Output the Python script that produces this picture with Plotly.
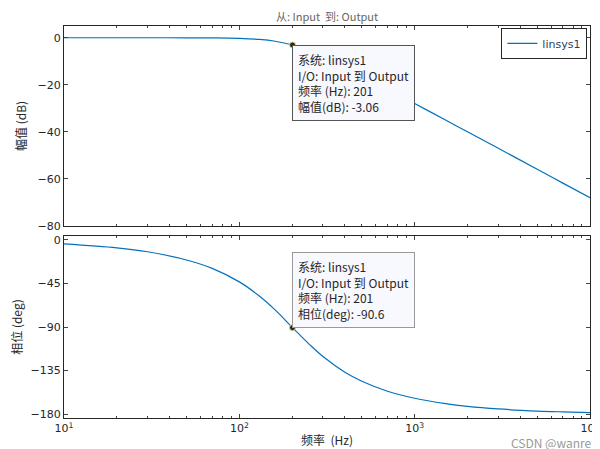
import plotly.graph_objects as go

freq = [10, 20, 30, 50, 70, 100, 130, 160, 201, 250, 300, 400, 500, 700, 1000, 1500, 2000, 3000, 5000, 7000, 10000]
mag_db = [0, 0, -0.002, -0.017, -0.065, -0.26, -0.71, -1.49, -3.06, -5.37, -7.83, -12.3, -16.0, -21.8, -27.96, -35.0, -40.0, -47.0, -55.9, -61.8, -67.96]
phase = [-4.05, -8.13, -12.2, -20.7, -29.4, -43.3, -57.9, -72.3, -90.6, -107.6, -120.5, -136.7, -146.0, -156.3, -163.6, -169.1, -171.9, -174.6, -176.8, -177.7, -178.4]
tip_f = 201
tip_mag = -3.06
tip_ph = -90.6

fig = go.Figure()
blue = "#0072BD"
fig.add_trace(go.Scatter(x=freq, y=mag_db, mode="lines", line=dict(color=blue, width=1.2, shape="spline"), name="linsys1", xaxis="x", yaxis="y"))
fig.add_trace(go.Scatter(x=freq, y=phase, mode="lines", line=dict(color=blue, width=1.2, shape="spline"), showlegend=False, xaxis="x2", yaxis="y2"))
for ax, yv in (("", tip_mag), ("2", tip_ph)):
    fig.add_trace(go.Scatter(x=[tip_f], y=[yv], mode="markers", marker=dict(color="#262626", size=6, line=dict(color="#DDDD88", width=1)), showlegend=False, xaxis="x" + ax, yaxis="y" + ax))

tf = dict(family="DejaVu Sans", size=11, color="#262626")
axcommon = dict(showgrid=False, linecolor="#262626", mirror="ticks", showline=True, ticks="inside", ticklen=4,
                tickfont=tf, zeroline=False, automargin=False)
xminor = dict(ticks="inside", ticklen=2, dtick="D1", showgrid=False)
fig.update_layout(
    width=600, height=449, paper_bgcolor="white", plot_bgcolor="white",
    margin=dict(l=56, r=18, t=18, b=39),
    xaxis=dict(type="log", range=[1, 4], domain=[0, 1], anchor="y", showticklabels=False, minor=xminor, dtick=1, **axcommon),
    yaxis=dict(range=[-80, 5], domain=[0.49, 1], tickvals=[0, -20, -40, -60, -80], title=dict(text="幅值 (dB)", font=dict(family="Noto Sans CJK SC", size=12, color="#262626"), standoff=8), **axcommon),
    xaxis2=dict(type="log", range=[1, 4], domain=[0, 1], anchor="y2", tickvals=[10, 100, 1000, 10000], ticktext=["10<sup>1</sup>", "10<sup>2</sup>", "10<sup>3</sup>", "10<sup>4</sup>"], minor=xminor,
                title=dict(text="频率  (Hz)", font=dict(family="Noto Sans CJK SC", size=12, color="#262626"), standoff=2), **axcommon),
    yaxis2=dict(range=[-184, 4], domain=[0, 0.464], tickvals=[0, -45, -90, -135, -180], title=dict(text="相位 (deg)", font=dict(family="Noto Sans CJK SC", size=12, color="#262626"), standoff=8), **axcommon),
    legend=dict(x=0.995, y=0.995, xanchor="right", yanchor="top", bordercolor="#262626", borderwidth=1, bgcolor="white", font=dict(family="DejaVu Sans", size=11)),
    showlegend=True,
)
fig.add_annotation(text="从: Input  到: Output", xref="paper", yref="paper", x=0.5, y=1.0, yanchor="bottom", showarrow=False, yshift=0, font=dict(family="Noto Sans CJK SC", size=11, color="#666666"))
tipfont = dict(family="Noto Sans CJK SC", size=12, color="#262626")
fig.add_annotation(text="系统: linsys1<br>I/O: Input 到 Output<br>频率 (Hz): 201<br>幅值(dB): -3.06", xref="x", yref="y", x=2.303, y=tip_mag, xanchor="left", yanchor="top", align="left", showarrow=False, bgcolor="#F8F8FF", bordercolor="#555555", borderwidth=1, borderpad=5, font=tipfont)
fig.add_annotation(text="系统: linsys1<br>I/O: Input 到 Output<br>频率 (Hz): 201<br>相位(deg): -90.6", xref="x2", yref="y2", x=2.303, y=tip_ph, xanchor="left", yanchor="bottom", align="left", showarrow=False, bgcolor="#F8F8FF", bordercolor="#999999", borderwidth=1, borderpad=5, font=tipfont)
fig.add_annotation(text="CSDN @wanrenqi", xref="paper", yref="paper", x=1.04, y=0, xanchor="right", yanchor="top", yshift=-14, showarrow=False, font=dict(family="Noto Sans CJK SC", size=12, color="#999999"))
fig.write_html("out.html")
